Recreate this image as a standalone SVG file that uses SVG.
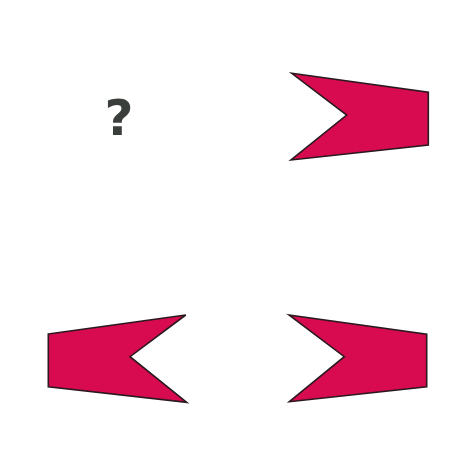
<svg xmlns="http://www.w3.org/2000/svg" width="475" height="474" viewBox="0 0 475 474">
<style>
.shape{fill:#d80a50;stroke:#2b1a1c;stroke-width:1.6;stroke-linejoin:miter}
.q{font-family:"DejaVu Sans","Liberation Sans",sans-serif;font-weight:bold;font-size:50px;fill:#3b3f3c;text-anchor:middle}
</style>
<rect width="475" height="474" fill="#ffffff"/>
<g id="question"><text class="q" x="119" y="135">?</text></g>
<g id="shape-top-right"><polygon class="shape" points="291.7,73.3 428.3,92.3 428.3,145 291,160 346.7,115"/></g>
<g id="shape-bottom-left"><polygon class="shape" points="48.3,334 185.7,315 130,356.7 186.7,402.3 48.3,386.7"/></g>
<g id="shape-bottom-right"><polygon class="shape" points="289,315 426.7,334.3 426.7,386.7 289.3,401.7 344.3,356.7"/></g>
</svg>
